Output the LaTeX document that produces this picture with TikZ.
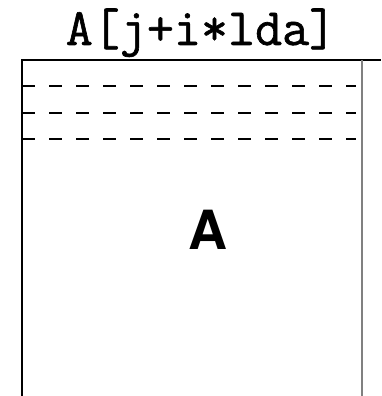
\documentclass[tikz,border=0pt]{standalone}
\usepackage{fontspec}
\newfontfamily\herosfont{TeX Gyre Heros}
\newfontfamily\titlefont[FakeBold=1.2]{Latin Modern Mono}
\tikzset{
  frameline/.style={draw=black, line width=1.5pt},
  rightline/.style={draw=gray, line width=1.2pt},
  rowline/.style={draw=black, line width=1.1pt, dash pattern=on 13pt off 14pt},
  titletext/.style={font=\fontsize{52.5}{60}\selectfont\titlefont, inner sep=0pt, anchor=base},
  bigletter/.style={font=\fontsize{54}{60}\selectfont\herosfont\bfseries, inner sep=0pt}
}
\begin{document}
\begin{tikzpicture}[x=1pt,y=-1pt]
\useasboundingbox (0,0) rectangle (381,396);
\coordinate (tl) at (22,60);
\coordinate (tr) at (381,60);
\coordinate (bl) at (22,396);
\coordinate (rt) at (362,60);
\coordinate (rb) at (362,396);
\draw[frameline] (bl) -- (tl) -- (tr);
\draw[rightline] (rt) -- (rb);
\foreach \yy/\nm in {86/r1,113/r2,139/r3}{
  \coordinate (\nm a) at (22,\yy);
  \coordinate (\nm b) at (356,\yy);
  \draw[rowline] (\nm a) -- (\nm b);
}
\node[titletext] (title) at (201,45) {A[j+i*lda]};
\node[bigletter] (bigA) at (208,230) {A};
\end{tikzpicture}
\end{document}
